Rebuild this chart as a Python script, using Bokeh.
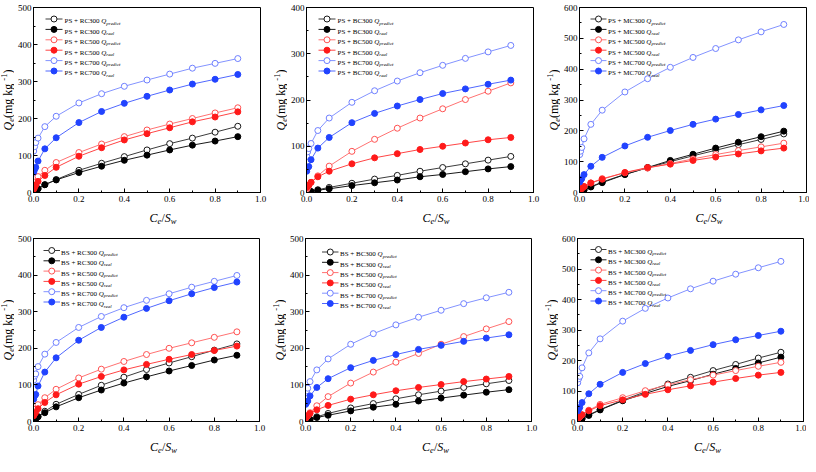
import numpy as np
from bokeh.plotting import figure
from bokeh.layouts import row, column
from bokeh.models import Label, SingleIntervalTicker, PrintfTickFormatter
from bokeh.embed import file_html
from bokeh.resources import INLINE

# ---------------- data ----------------
x_vals = [0.001, 0.005, 0.01, 0.02, 0.05, 0.1, 0.2, 0.3, 0.4, 0.5, 0.6, 0.7, 0.8, 0.9]

ps_rc300_pred = [1, 3, 5, 10, 21, 35, 60, 79, 97, 115, 132, 147, 163, 179]
ps_rc300_real = [2, 4, 6, 10, 21, 34, 54, 71, 87, 101, 115, 128, 139, 151]
ps_rc500_pred = [15, 22, 29, 43, 60, 81, 108, 131, 151, 169, 185, 200, 215, 229]
ps_rc500_real = [9, 14, 20, 30, 46, 68, 98, 121, 142, 159, 175, 191, 204, 218]
ps_rc700_pred = [112, 124, 135, 147, 178, 206, 242, 267, 287, 304, 320, 336, 349, 362]
ps_rc700_real = [55, 62, 68, 85, 118, 148, 189, 219, 241, 260, 277, 293, 306, 319]

ps_bc300_pred = [0.3, 1, 1.5, 2, 6, 11, 20, 29, 37, 46, 54, 62, 70, 78]
ps_bc300_real = [0.2, 0.7, 1.2, 2, 5, 8, 15, 21, 27, 34, 39, 45, 51, 56]
ps_bc500_pred = [7, 11, 15, 22, 36, 57, 89, 115, 139, 161, 181, 201, 219, 237]
ps_bc500_real = [11, 14, 16, 22, 34, 46, 62, 75, 84, 93, 100, 107, 114, 119]
ps_bc700_pred = [78, 88, 95, 106, 134, 161, 195, 220, 241, 259, 275, 290, 304, 318]
ps_bc700_real = [46, 54, 56, 71, 96, 119, 151, 171, 187, 201, 214, 224, 234, 243]

ps_mc300_pred = [1, 3, 5, 9, 19, 34, 59, 80, 100, 119, 137, 155, 172, 190]
ps_mc300_real = [1, 2, 4, 8, 18, 32, 58, 81, 104, 124, 144, 163, 181, 199]
ps_mc500_pred = [7, 11, 14, 20, 31, 45, 64, 79, 94, 109, 123, 136, 148, 160]
ps_mc500_real = [6, 10, 13, 19, 31, 43, 65, 81, 92, 104, 115, 125, 135, 144]
ps_mc700_pred = [123, 134, 146, 174, 221, 267, 326, 369, 406, 438, 467, 495, 521, 545]
ps_mc700_real = [34, 40, 45, 58, 85, 114, 151, 179, 201, 221, 238, 253, 268, 282]

bs_rc300_pred = [3, 5, 8, 13, 28, 47, 74, 99, 121, 142, 160, 177, 195, 212]
bs_rc300_real = [3, 5, 7, 13, 24, 40, 65, 86, 105, 122, 138, 153, 168, 181]
bs_rc500_pred = [22, 29, 34, 46, 65, 88, 119, 143, 164, 183, 200, 215, 230, 245]
bs_rc500_real = [16, 21, 25, 35, 52, 73, 102, 123, 141, 156, 170, 183, 194, 206]
bs_rc700_pred = [113, 124, 130, 150, 184, 216, 257, 287, 311, 331, 349, 367, 383, 399]
bs_rc700_real = [61, 70, 74, 97, 135, 174, 222, 257, 285, 309, 330, 349, 366, 381]

bs_bc300_pred = [1, 2, 4, 6, 13, 22, 37, 49, 62, 73, 83, 93, 103, 112]
bs_bc300_real = [1, 2, 3.5, 5, 11, 17, 29, 39, 47, 56, 64, 72, 80, 87]
bs_bc500_pred = [9, 13, 16, 24, 43, 68, 105, 135, 162, 186, 211, 232, 253, 273]
bs_bc500_real = [10, 13, 16, 22, 32, 44, 61, 73, 84, 93, 101, 109, 116, 123]
bs_bc700_pred = [79, 84, 91, 109, 141, 171, 211, 240, 264, 285, 304, 322, 338, 353]
bs_bc700_real = [47, 52, 56, 70, 93, 117, 147, 167, 183, 197, 208, 219, 228, 237]

bs_mc300_pred = [1, 2, 4, 9, 22, 39, 70, 97, 123, 145, 167, 187, 208, 227]
bs_mc300_real = [1, 2, 4, 9, 20, 38, 68, 92, 115, 134, 155, 174, 192, 211]
bs_mc500_pred = [9, 12, 15, 22, 37, 56, 78, 101, 120, 137, 152, 167, 181, 194]
bs_mc500_real = [10, 13, 16, 22, 35, 52, 71, 89, 104, 117, 129, 141, 152, 161]
bs_mc700_pred = [127, 140, 148, 176, 225, 271, 329, 371, 405, 435, 460, 483, 504, 525]
bs_mc700_real = [35, 41, 46, 62, 91, 122, 161, 190, 214, 233, 252, 268, 282, 296]

temps = ["300", "300", "500", "500", "700", "700"]
kinds = ["predict", "real", "predict", "real", "predict", "real"]
x_ticks_fmt = "%.1f"

# ---------------- styling ----------------
FONT = "Liberation Serif"
STYLES = [
    ("#3c3c3c", "#1a1a1a", "white"),
    ("#1a1a1a", "#000000", "#000000"),
    ("#ff7272", "#ff5252", "white"),
    ("#ff4545", "#ff1a1a", "#ff1a1a"),
    ("#8393ff", "#6f80ff", "white"),
    ("#5068ff", "#2143ff", "#2143ff"),
]

W_REG = {' ': 250, '+': 564, 'P': 556, 'S': 556, 'R': 667, 'C': 667, 'B': 667,
         'M': 889, '(': 333, ')': 333, 'm': 778, 'g': 500, 'k': 500, '-': 333,
         '/': 278}
W_IT = {'Q': 722, 'C': 667, 'S': 500, 'e': 444, 'w': 667, 'p': 500, 'r': 389,
        'd': 500, 'i': 278, 'c': 444, 't': 278, 'a': 500, 'l': 278}


def tw(s, size, italic=False):
    tab = W_IT if italic else W_REG
    return sum(tab.get(c, 500) for c in s) * size / 1000.0


def blank_fig(w, h):
    f = figure(frame_width=w, frame_height=h, x_range=(0, w), y_range=(0, h),
               output_backend="svg", toolbar_location=None,
               x_axis_location=None, y_axis_location=None,
               min_border=0, outline_line_color=None,
               background_fill_color="white", border_fill_color="white")
    f.xgrid.visible = False
    f.ygrid.visible = False
    return f


def lab(t, x, y, size, italic=False, angle=0.0, baseline="alphabetic"):
    return Label(x=x, y=y, text=t, angle=angle, text_font=FONT,
                 text_font_size=f"{size}px",
                 text_font_style="italic" if italic else "normal",
                 text_color="black", text_align="left", text_baseline=baseline)


F, FS = 12, 8.5
YLAB_W = 14


def make_panel(prefix, series, ymax, fw, fh, bl, br, bt, bb, xlab_h, leg):
    p = figure(frame_width=fw, frame_height=fh, x_range=(0, 1), y_range=(0, ymax),
               output_backend="svg", toolbar_location=None,
               min_border_left=bl, min_border_right=br, min_border_top=bt,
               min_border_bottom=bb, background_fill_color="white",
               border_fill_color="white")
    p.xgrid.visible = False
    p.ygrid.visible = False
    p.outline_line_color = "black"
    p.outline_line_alpha = 1.0
    p.outline_line_width = 1

    p.xaxis.ticker = SingleIntervalTicker(interval=0.2, num_minor_ticks=2)
    p.yaxis.ticker = SingleIntervalTicker(interval=100, num_minor_ticks=2)
    p.xaxis.formatter = PrintfTickFormatter(format=x_ticks_fmt)
    for ax in (p.xaxis, p.yaxis):
        ax.major_tick_in = 4
        ax.major_tick_out = 0
        ax.minor_tick_in = 2
        ax.minor_tick_out = 0
        ax.axis_line_color = "black"
        ax.major_tick_line_color = "black"
        ax.minor_tick_line_color = "black"
        ax.major_label_text_font = FONT
        ax.major_label_text_font_size = "9px"
        ax.major_label_text_color = "black"
    p.yaxis.major_label_standoff = 2
    p.xaxis.major_label_standoff = 3

    # data series
    for (ys, (lc, mc, mf)) in zip(series, STYLES):
        p.line(x_vals, ys, line_color=lc, line_width=1)
        p.scatter(x_vals, ys, size=6, line_color=mc, fill_color=mf, line_width=1)

    px2x = lambda px: px / fw
    px2y = lambda py: py * ymax / fh

    # legend (drawn manually to allow subscripts)
    l0, l1, tx, top, dy = leg
    for i, (lc, mc, mf) in enumerate(STYLES):
        yr = ymax - px2y(top + i * dy)
        p.line([px2x(l0), px2x(l1)], [yr, yr], line_color=lc, line_width=1)
        p.scatter([px2x((l0 + l1) / 2)], [yr], size=6, line_color=mc, fill_color=mf,
                  line_width=1)
        base = yr - px2y(2.4)
        t1 = f"{prefix}{temps[i]} "
        xx = tx
        p.add_layout(lab(t1, px2x(xx), base, 7))
        xx += tw(t1, 7)
        p.add_layout(lab("Q", px2x(xx), base, 7, True))
        xx += tw("Q", 7, True)
        p.add_layout(lab(kinds[i], px2x(xx), base - px2y(1.6), 5, True))

    main_w = bl + fw + br
    main_h = bt + fh + bb
    total_h = main_h + xlab_h

    # x axis label figure: Ce/Sw
    xl = blank_fig(main_w, xlab_h)
    pieces = [("C", F, True, 0), ("e", FS, True, -3), ("/", F, False, 0),
              ("S", F, True, 0), ("w", FS, True, -3)]
    total = sum(tw(t, s, it) for t, s, it, _ in pieces)
    xx = bl + fw / 2 - total / 2
    base_y = xlab_h - (25 - bb)
    for t, s, it, sh in pieces:
        xl.add_layout(lab(t, xx, base_y + sh, s, it))
        xx += tw(t, s, it)

    # y axis label figure: Qe (mg kg-1), rotated, centred on a vertical line
    yl = blank_fig(YLAB_W, total_h)
    pieces = [("Q", F, True, 0), ("e", FS, True, 3), (" (mg kg", F, False, 0),
              ("-1", FS, False, -4), (")", F, False, 0)]
    total = sum(tw(t, s, it) for t, s, it, _ in pieces)
    yy = total_h - (bt + fh / 2) - total / 2
    for t, s, it, sh in pieces:
        yl.add_layout(lab(t, 7.0 + sh, yy, s, it, np.pi / 2, "middle"))
        yy += tw(t, s, it)

    return row(yl, column(p, xl))


# layout geometry
FW1, FH1 = 227, 185
FW2, FH2 = 226, 183
LEG1 = (12, 29, 31, 11.5, 10.4)

p1 = make_panel("PS + RC", [ps_rc300_pred, ps_rc300_real, ps_rc500_pred, ps_rc500_real,
                            ps_rc700_pred, ps_rc700_real], 500, FW1, FH1, 16, 13, 7, 15,
                23, LEG1)
p2 = make_panel("PS + BC", [ps_bc300_pred, ps_bc300_real, ps_bc500_pred, ps_bc500_real,
                            ps_bc700_pred, ps_bc700_real], 400, FW1, FH1, 16, 13, 7, 15,
                23, LEG1)
p3 = make_panel("PS + MC", [ps_mc300_pred, ps_mc300_real, ps_mc500_pred, ps_mc500_real,
                            ps_mc700_pred, ps_mc700_real], 600, FW1, FH1, 16, 3, 7, 15,
                23, (11, 27, 28.5, 11.5, 10.4))
p4 = make_panel("BS + RC", [bs_rc300_pred, bs_rc300_real, bs_rc500_pred, bs_rc500_real,
                            bs_rc700_pred, bs_rc700_real], 500, FW2, FH2, 17, 13, 8, 15,
                20, (10, 26.5, 27.6, 12, 10.3))
p5 = make_panel("BS + BC", [bs_bc300_pred, bs_bc300_real, bs_bc500_pred, bs_bc500_real,
                            bs_bc700_pred, bs_bc700_real], 500, FW2, FH2, 17, 13, 8, 15,
                20, (16.5, 33, 34.5, 13.5, 10.3))
p6 = make_panel("BS + MC", [bs_mc300_pred, bs_mc300_real, bs_mc500_pred, bs_mc500_real,
                            bs_mc700_pred, bs_mc700_real], 600, FW2, FH2, 17, 3, 8, 15,
                20, (13, 29, 30.5, 11, 10.3))

layout = column(row(p1, p2, p3), row(p4, p5, p6))
open("out.html", "w").write(file_html(layout, INLINE))
